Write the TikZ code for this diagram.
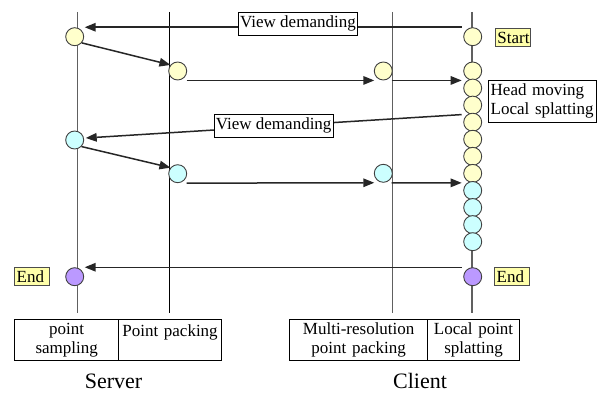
\documentclass[tikz,border=0pt]{standalone}
\usepackage{fontspec}
\setmainfont{Liberation Serif}
\newfontfamily\tms{Liberation Serif}
\usetikzlibrary{arrows.meta,calc}
\definecolor{cy}{HTML}{FFFFCC}
\definecolor{cc}{HTML}{CCFFFF}
\definecolor{cpur}{HTML}{BB99FF}
\definecolor{tagfill}{HTML}{FFFFAA}
\definecolor{lifegray}{HTML}{606060}
\begin{document}
\begin{tikzpicture}[x=1pt,y=-1pt,
  every node/.style={font=\tms\fontsize{17}{19}\selectfont},
  dot/.style={circle,draw=black!75,line width=0.9pt,minimum size=18pt,inner sep=0pt},
  ydot/.style={dot,fill=cy}, cdot/.style={dot,fill=cc}, pdot/.style={dot,fill=cpur},
  life/.style={draw=lifegray,line width=1.3pt},
  arr/.style={draw=black!85,line width=1.5pt,-{Triangle[length=11pt,width=8.5pt]}},
  msg/.style={draw,fill=white,line width=0.8pt,inner xsep=2pt,inner ysep=0pt,minimum height=23pt},
  tag/.style={draw=black!70,fill=tagfill,line width=0.8pt,inner xsep=2pt,inner ysep=0pt,text width=31pt,align=left,minimum height=18pt,anchor=west},
  cell/.style={draw,line width=0.8pt,inner sep=0pt,minimum height=40.7pt,align=center,anchor=north west},
  side/.style={font=\tms\fontsize{22}{24}\selectfont,anchor=base,inner sep=0pt},
  ]
\useasboundingbox (0,0) rectangle (597,393);
% lifelines
\coordinate (l1t) at (77.5,12);  \coordinate (l1b) at (77.5,313);
\coordinate (l2t) at (169.3,12); \coordinate (l2b) at (169.3,313);
\coordinate (l3t) at (392.3,12); \coordinate (l3b) at (392.3,313);
\coordinate (l4t) at (472,12);   \coordinate (l4b) at (472,313);
\draw[life] (l1t) -- (l1b);
\draw[draw=black,line width=1pt] (l2t) -- (l2b);
\draw[life] (l3t) -- (l3b);
\draw[life] (l4t) -- (l4b);
% circles
\node[ydot] (sy) at (74.7,36.7) {};
\node[cdot] (sc) at (74.7,140) {};
\node[pdot] (sp) at (74.7,276.7) {};
\node[ydot] (py) at (177.7,71) {};
\node[cdot] (pc) at (177.7,173.7) {};
\node[ydot] (my) at (383.3,71) {};
\node[cdot] (mc) at (383.3,173.3) {};
\node[ydot] (st) at (472.7,36.7) {};
\foreach \k/\c in {0/cy,1/cy,2/cy,3/cy,4/cy,5/cy,6/cy,7/cc,8/cc,9/cc,10/cc}
  \node[dot,fill=\c] (s\k) at (472.7,{71+17.07*\k}) {};
\node[pdot] (ep) at (472.7,276.7) {};
% arrows
\draw[arr] ([xshift=-11pt]st.north) -- ([xshift=10pt]sy.north);
\node[msg] (vd1) at (298,23.5) {View demanding};
\draw[arr] (sy.-41) -- (py.140);
\draw[arr] ([xshift=9pt]py.south) -- ([xshift=-9pt]my.south);
\draw[arr] ([xshift=8.4pt]my.south) -- ([xshift=-11pt]s0.south);
\draw[arr] ([xshift=-11pt]s2.south) -- ($(sc)+(11,-2)$);
\node[msg] (vd2) at (273.7,125.5) {View demanding};
\draw[arr] (sc.-44) -- (pc.140);
\draw[arr] ([xshift=9pt]pc.south) -- ([xshift=-9pt]mc.south);
\draw[arr] ([xshift=8.4pt]mc.south) -- ([xshift=-11pt]s6.south);
\draw[arr] ([xshift=-11pt]ep.north) -- ([xshift=10pt]sp.north);
% tags
\node[tag] (tstart) at (495,37.5) {Start};
\node[tag] (tend1) at (14.3,276.7) {End};
\node[tag] (tend2) at (494.3,276.7) {End};
\node[draw,fill=white,line width=0.8pt,align=left,anchor=north west,inner xsep=2pt,inner ysep=2pt,
      minimum height=41.7pt,text width=103.6pt] (hm) at (488.3,80) {Head moving\\Local splatting};
% bottom cells
\node[cell,text width=104pt] (c1) at (14.3,319.3) {point\\sampling};
\node[cell,text width=102.7pt] (c2) at (118.3,319.3) {Point packing\\\mbox{}};
\node[cell,text width=138pt] (c3) at (289.3,319.3) {Multi-resolution\\point packing};
\node[cell,text width=91.7pt] (c4) at (427.3,319.3) {Local point\\splatting};
\node[side] (srv) at (113.5,388) {Server};
\node[side] (cli) at (420,388) {Client};
\end{tikzpicture}
\end{document}
